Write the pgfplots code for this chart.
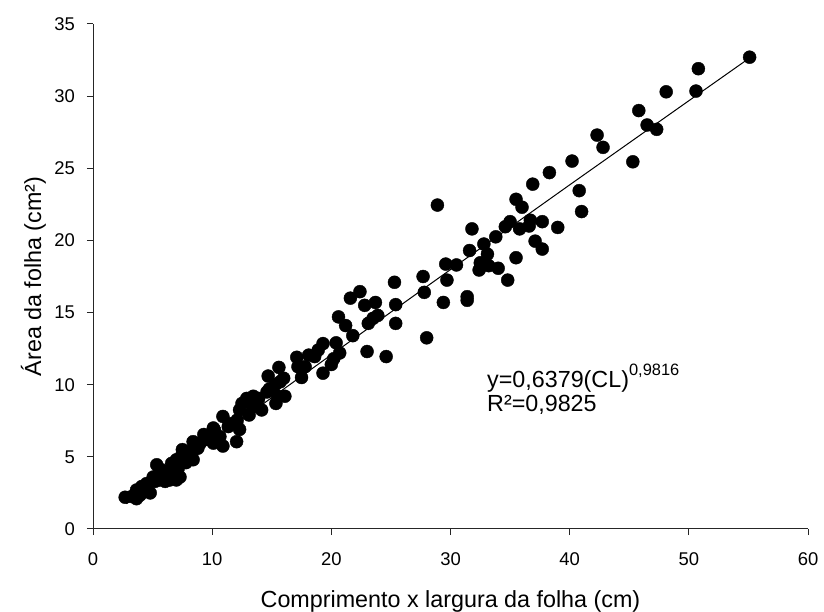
\documentclass[border=0pt]{standalone}
\usepackage{fontspec}
\setmainfont{Liberation Sans}
\usepackage{pgfplots}
\pgfplotsset{compat=1.18}
\begin{document}
\begin{tikzpicture}
\begin{axis}[
  scale only axis, width=715bp, height=505bp,
  xmin=0, xmax=60, ymin=0, ymax=35,
  xtick={0,10,...,60}, ytick={0,5,...,35},
  axis lines=left,
  axis line style={-, line width=1bp, black!85},
  tick align=outside, major tick length=6bp,
  tick style={black!85, line width=1bp},
  clip=false,
  /pgf/number format/assume math mode=true,
  tick label style={font=\fontsize{18.5}{20}\selectfont},
  xticklabel style={anchor=north, inner sep=0pt, yshift=-17.5bp},
  yticklabel style={anchor=east, inner sep=0pt, xshift=-12bp},
]
\addplot[only marks, mark=*, mark size=6.5bp, black] coordinates {
(55.1,32.7) (50.8,31.9) (50.6,30.35) (48.1,30.3) (45.8,29.0) (46.5,28.0)
(47.3,27.7) (42.3,27.3) (42.8,26.45) (45.3,25.45) (40.2,25.5) (38.3,24.7)
(36.9,23.9) (40.8,23.45) (41.0,22.0) (36.0,22.3) (35.5,22.85) (36.7,21.4)
(37.7,21.3) (39.0,20.9) (28.9,22.45) (35.0,21.3) (34.6,20.95) (35.8,20.8)
(36.6,21.0) (37.1,19.95) (37.7,19.4) (31.8,20.8) (33.8,20.25) (32.8,19.75)
(31.6,19.3) (33.1,19.05) (32.5,18.45) (33.2,18.25) (34.0,18.07) (32.4,17.95)
(35.5,18.8) (34.8,17.25) (29.6,18.36) (30.5,18.3) (29.7,17.25) (27.7,17.5)
(27.8,16.4) (29.4,15.7) (31.4,16.1) (31.4,15.85) (25.3,17.1) (25.4,15.55)
(25.4,14.25) (28.0,13.25) (24.6,11.95)
(22.4,16.45) (21.6,16.0) (22.8,15.5) (23.7,15.7) (23.9,14.8) (23.5,14.6)
(23.1,14.25) (20.6,14.7) (21.2,14.1) (21.8,13.4) (23.0,12.3) (20.4,12.9)
(20.7,12.2) (20.2,11.8) (20.0,11.4) (19.3,12.85) (18.9,12.4) (18.1,12.05)
(18.6,11.95) (19.3,10.8) (17.1,11.9) (17.2,11.25) (17.8,11.25) (17.5,10.5)
(15.6,11.2) (14.7,10.6) (16.0,10.45) (15.7,10.2) (15.3,10.0) (14.8,9.7)
(16.1,9.2) (15.5,9.2) (15.35,8.7) (14.15,8.25) (13.45,9.2) (12.9,9.05)
(12.5,8.7) (13.6,8.5) (13.1,7.9) (12.3,8.25) (10.9,7.8) (10.1,7.0)
(12.1,7.55) (12.3,6.9) (11.5,7.3) (12.05,6.05) (9.3,6.55) (9.0,5.95)
(14.6,9.5) (13.9,9.05) (13.2,8.95) (13.3,8.6) (12.05,7.3) (11.35,7.1)
(10.2,6.85) (10.65,6.4) (10.9,5.75) (10.1,5.95) (8.4,6.05) (8.3,5.25)
(7.85,5.35) (7.45,5.1) (7.6,4.8) (7.0,4.8) (6.6,4.55) (7.15,4.2)
(6.45,3.97) (6.2,3.6) (6.75,3.5) (7.0,3.4) (6.05,3.3) (5.6,3.4)
(5.2,3.3) (5.35,4.45) (5.75,4.1) (5.5,3.75) (5.05,3.6) (6.45,3.4)
(7.3,3.6) (8.4,4.8) (4.5,3.15) (4.1,2.95) (3.65,2.7) (3.95,2.35)
(4.8,2.5) (3.25,2.25) (2.7,2.2) (3.65,2.1) (6.8,4.0) (7.8,4.6)
(8.8,5.6) (9.7,6.2) (6.3,3.8) (7.5,5.5)
};
\addplot[black, line width=1bp] coordinates {
(2.8,1.7526) (5,3.096) (10,6.114) (15,9.104) (20,12.075) (25,15.031)
(30,17.98) (35,20.913) (40,23.85) (45,26.766) (50,29.681) (55,32.59)
};
\node[font=\fontsize{23.4}{26}\selectfont, anchor=base, inner sep=0pt] at (axis cs:30,-5.406) {Comprimento x largura da folha (cm)};
\node[font=\fontsize{23.4}{26}\selectfont, anchor=base, inner sep=0pt, rotate=90] at (axis cs:-4.36,17.5) {Área da folha (cm²)};
\node[font=\fontsize{23.4}{26}\selectfont, anchor=base west, inner sep=0pt] at (axis cs:33.06,9.82) {y=0,6379(CL)\raisebox{0.5em}{\fontsize{16.5}{18}\selectfont 0,9816}};
\node[font=\fontsize{23.4}{26}\selectfont, anchor=base west, inner sep=0pt] at (axis cs:33.06,8.13) {R²=0,9825};
\end{axis}
\path ([xshift=-93bp,yshift=-82bp]current axis.south west) rectangle ([xshift=16bp,yshift=24bp]current axis.north east);
\end{tikzpicture}
\end{document}
